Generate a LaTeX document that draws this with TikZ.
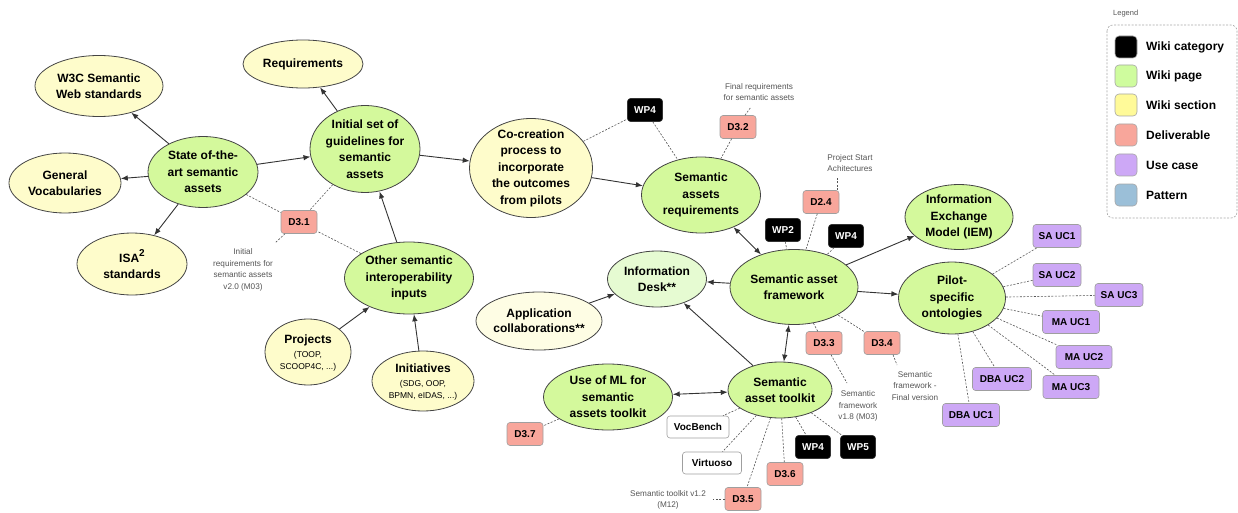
\documentclass[tikz,border=0pt]{standalone}
\usepackage{fontspec}
\setmainfont{Liberation Sans}
\usetikzlibrary{shapes.geometric,arrows.meta}

\definecolor{pagegreen}{HTML}{D4F99C}
\definecolor{deskgreen}{HTML}{E6FBD2}
\definecolor{secyellow}{HTML}{FEFCCB}
\definecolor{paleyellow}{HTML}{FEFDE4}
\definecolor{delivred}{HTML}{F8A69B}
\definecolor{usecase}{HTML}{CDA8F6}
\definecolor{edgegray}{HTML}{444444}
\definecolor{arrowgray}{HTML}{333333}
\definecolor{linkgray}{HTML}{555555}
\definecolor{notegray}{HTML}{555555}
\definecolor{leggreen}{HTML}{CFFC9E}
\definecolor{legyellow}{HTML}{FFFA99}
\definecolor{legblue}{HTML}{9BBFD8}

\tikzset{
  bub/.style={ellipse, draw=edgegray, line width=0.8pt, inner sep=0pt},
  gbub/.style={bub, fill=pagegreen},
  ybub/.style={bub, fill=secyellow},
  lbl/.style={align=center, inner sep=0pt, text=black,
    font=\bfseries\fontsize{12}{16.5}\selectfont},
  note/.style={align=center, inner sep=0pt, text=notegray,
    font=\fontsize{8.2}{11.5}\selectfont},
  tag/.style={rounded corners=3pt, draw=gray!75, line width=0.6pt,
    minimum height=23pt, inner sep=0pt,
    font=\bfseries\fontsize{10}{12}\selectfont},
  deliv/.style={tag, fill=delivred, minimum width=36pt},
  wp/.style={tag, fill=black, draw=black!80, text=white, minimum width=35pt},
  uc/.style={tag, fill=usecase},
  tool/.style={tag, fill=white, minimum height=22pt},
  arr/.style={draw=arrowgray, line width=0.9pt, -{Latex[length=7pt,width=5.5pt]}},
  barr/.style={draw=arrowgray, line width=0.9pt,
    {Latex[length=7pt,width=5.5pt]}-{Latex[length=7pt,width=5.5pt]}},
  lnk/.style={draw=linkgray, line width=0.6pt, dash pattern=on 2pt off 1.5pt},
  swatch/.style={rounded corners=4pt, draw=gray!70, line width=0.6pt,
    minimum width=22pt, minimum height=22pt, inner sep=0pt},
  legtext/.style={anchor=west, inner sep=0pt, font=\bfseries\fontsize{12}{14}\selectfont}
}

\begin{document}
\begin{tikzpicture}[x=1pt,y=-1pt]
\useasboundingbox (0,0) rectangle (1238,513);

% ---- ellipses ----
\node[ybub, minimum width=128, minimum height=61] (w3c) at (99,86) {};
\node[lbl] (w3c-t) at (w3c) {W3C Semantic\\Web standards};
\node[ybub, minimum width=120, minimum height=48] (req) at (303,64) {};
\node[lbl] (req-t) at (req) {Requirements};
\node[gbub, minimum width=110, minimum height=71] (state) at (203,172) {};
\node[lbl] (state-t) at (state) {State of-the-\\art semantic\\assets};
\node[ybub, minimum width=112, minimum height=60] (gv) at (65,183) {};
\node[lbl] (gv-t) at (gv) {General\\Vocabularies};
\node[ybub, minimum width=110, minimum height=62] (isa) at (132,264) {};
\node[lbl] (isa-t) at (isa) {ISA\raisebox{6pt}{\fontsize{10}{10}\selectfont 2}\\standards};
\node[gbub, minimum width=110, minimum height=87] (init) at (365,149) {};
\node[lbl] (init-t) at (init) {Initial set of\\guidelines for\\semantic\\assets};
\node[gbub, minimum width=129, minimum height=72] (other) at (409,278) {};
\node[lbl] (other-t) at (other) {Other semantic\\interoperability\\inputs};
\node[ybub, minimum width=86, minimum height=66] (proj) at (308,352) {};
\node[lbl, font=\fontsize{8.5}{11.5}\selectfont] (proj-t) at (308,353)
  {{\bfseries\fontsize{12}{14}\selectfont Projects}\\[2.5pt](TOOP,\\SCOOP4C, ...)};
\node[ybub, minimum width=102, minimum height=60] (initv) at (423,381) {};
\node[lbl, font=\fontsize{8.5}{11.5}\selectfont] (initv-t) at (423,382)
  {{\bfseries\fontsize{12}{14}\selectfont Initiatives}\\[2.5pt](SDG, OOP,\\BPMN, eIDAS, ...)};
\node[ybub, minimum width=123, minimum height=99] (cocr) at (531,168) {};
\node[lbl] (cocr-t) at (cocr) {Co-creation\\process to\\incorporate\\the outcomes\\from pilots};
\node[gbub, minimum width=119, minimum height=76] (sar) at (701,195) {};
\node[lbl] (sar-t) at (sar) {Semantic\\assets\\requirements};
\node[gbub, minimum width=128, minimum height=75] (fw) at (794,287) {};
\node[lbl] (fw-t) at (fw) {Semantic asset\\framework};
\node[bub, fill=deskgreen, minimum width=99, minimum height=56] (desk) at (657,279) {};
\node[lbl] (desk-t) at (desk) {Information\\Desk**};
\node[gbub, minimum width=108, minimum height=65] (iem) at (959,217) {};
\node[lbl] (iem-t) at (iem) {Information\\Exchange\\Model (IEM)};
\node[gbub, minimum width=107, minimum height=72] (pilot) at (952,298) {};
\node[lbl] (pilot-t) at (pilot) {Pilot-\\specific\\ontologies};
\node[gbub, minimum width=104, minimum height=56] (tk) at (780,390) {};
\node[lbl] (tk-t) at (tk) {Semantic\\asset toolkit};
\node[gbub, minimum width=129, minimum height=66] (ml) at (608,397) {};
\node[lbl] (ml-t) at (ml) {Use of ML for\\semantic\\assets toolkit};
\node[bub, fill=paleyellow, minimum width=126, minimum height=58] (app) at (539,321) {};
\node[lbl, font=\bfseries\fontsize{12}{15}\selectfont] (app-t) at (app) {Application\\collaborations**};

% ---- tags ----
\node[deliv] (d31) at (299,222) {D3.1};
\node[wp] (wp4a) at (645,110) {WP4};
\node[deliv] (d32) at (738,127) {D3.2};
\node[deliv] (d24) at (821,202) {D2.4};
\node[wp] (wp2) at (783,230) {WP2};
\node[wp] (wp4b) at (846,236) {WP4};
\node[deliv] (d33) at (824,343) {D3.3};
\node[deliv] (d34) at (882,343) {D3.4};
\node[deliv] (d37) at (525,434) {D3.7};
\node[tool, minimum width=62] (voc) at (698,427) {VocBench};
\node[tool, minimum width=59] (virt) at (712,463) {Virtuoso};
\node[deliv] (d36) at (785,474) {D3.6};
\node[deliv] (d35) at (743,499) {D3.5};
\node[wp] (wp4c) at (813,447) {WP4};
\node[wp] (wp5) at (858,447) {WP5};
\node[uc, minimum width=48] (sa1) at (1057,236) {SA UC1};
\node[uc, minimum width=48] (sa2) at (1057,275) {SA UC2};
\node[uc, minimum width=48] (sa3) at (1119,295) {SA UC3};
\node[uc, minimum width=57] (ma1) at (1071,322) {MA UC1};
\node[uc, minimum width=56] (ma2) at (1084,357) {MA UC2};
\node[uc, minimum width=56] (ma3) at (1071,387) {MA UC3};
\node[uc, minimum width=59] (dba2) at (1002,379) {DBA UC2};
\node[uc, minimum width=57] (dba1) at (971,415) {DBA UC1};

% ---- notes ----
\node[note] (n31) at (243,270) {Initial\\requirements for\\semantic assets\\v2.0 (M03)};
\node[note] (n32) at (759,92) {Final requirements\\for semantic assets};
\node[note] (n24) at (850,163) {Project Start\\Achitectures};
\node[note] (n33) at (858,406) {Semantic\\framework\\v1.8 (M03)};
\node[note] (n34) at (915,386) {Semantic\\framework -\\Final version};
\node[note] (n35) at (668,500) {Semantic toolkit v1.2\\(M12)};

\coordinate (c31) at (275,243);
\coordinate (c32) at (751,107);
\coordinate (c24) at (837,178);
\coordinate (c33) at (847,383);
\coordinate (c34) at (897,365);
\coordinate (c35) at (713,499);

% ---- solid connectors ----
\draw[arr] (state) -- (w3c);
\draw[arr] (state) -- (gv);
\draw[arr] (state) -- (isa);
\draw[arr] (state) -- (init);
\draw[arr] (init) -- (req);
\draw[arr] (other) -- (init);
\draw[arr] (proj) -- (other);
\draw[arr] (initv) -- (other);
\draw[arr] (init) -- (cocr);
\draw[arr] (cocr) -- (sar);
\draw[barr] (sar) -- (fw);
\draw[arr] (fw) -- (desk);
\draw[arr] (fw) -- (iem);
\draw[arr] (fw) -- (pilot);
\draw[barr] (fw) -- (tk);
\draw[arr] (tk) -- (desk);
\draw[arr] (app) -- (desk);
\draw[barr] (ml) -- (tk);

% ---- dashed links ----
\draw[lnk] (state) -- (d31);
\draw[lnk] (init) -- (d31);
\draw[lnk] (other) -- (d31);
\draw[lnk] ([xshift=-14pt]d31.south) -- (c31);
\draw[lnk] (cocr) -- (wp4a);
\draw[lnk] (wp4a) -- (sar);
\draw[lnk] (d32) -- (sar);
\draw[lnk] ([xshift=7pt]d32.north) -- (c32);
\draw[lnk] (wp2) -- (fw);
\draw[lnk] (d24) -- (fw);
\draw[lnk] (d24.north -| c24) -- (c24);
\draw[lnk] (wp4b) -- (fw);
\draw[lnk] (d33) -- (fw);
\draw[lnk] (d34) -- (fw);
\draw[lnk] ([xshift=7pt]d33.south) -- (c33);
\draw[lnk] ([xshift=11pt]d34.south) -- (c34);
\draw[lnk] (tk) -- (voc);
\draw[lnk] (tk) -- (virt);
\draw[lnk] (tk) -- (d35);
\draw[lnk] (tk) -- (d36);
\draw[lnk] (tk) -- (wp4c);
\draw[lnk] (tk) -- (wp5);
\draw[lnk] (d35.west) -- (c35);
\draw[lnk] (ml) -- (d37);
\foreach \u in {sa1,sa2,sa3,ma1,ma2,ma3,dba2,dba1}
  \draw[lnk] (pilot) -- (\u);

% ---- legend ----
\node[anchor=west, inner sep=0pt, text=notegray, font=\fontsize{7.5}{9}\selectfont] (legtitle) at (1113,14) {Legend};
\draw[draw=gray!70, line width=0.6pt, dash pattern=on 2pt off 1.5pt, rounded corners=6pt] (1107,25) rectangle (1237,218);
\node[swatch, fill=black] (s1) at (1126,47) {};
\node[legtext] (l1) at (1146,47) {Wiki category};
\node[swatch, fill=leggreen] (s2) at (1126,76) {};
\node[legtext] (l2) at (1146,76) {Wiki page};
\node[swatch, fill=legyellow] (s3) at (1126,105) {};
\node[legtext] (l3) at (1146,105) {Wiki section};
\node[swatch, fill=delivred] (s4) at (1126,135) {};
\node[legtext] (l4) at (1146,135) {Deliverable};
\node[swatch, fill=usecase] (s5) at (1126,165) {};
\node[legtext] (l5) at (1146,165) {Use case};
\node[swatch, fill=legblue] (s6) at (1126,195) {};
\node[legtext] (l6) at (1146,195) {Pattern};
\end{tikzpicture}
\end{document}
